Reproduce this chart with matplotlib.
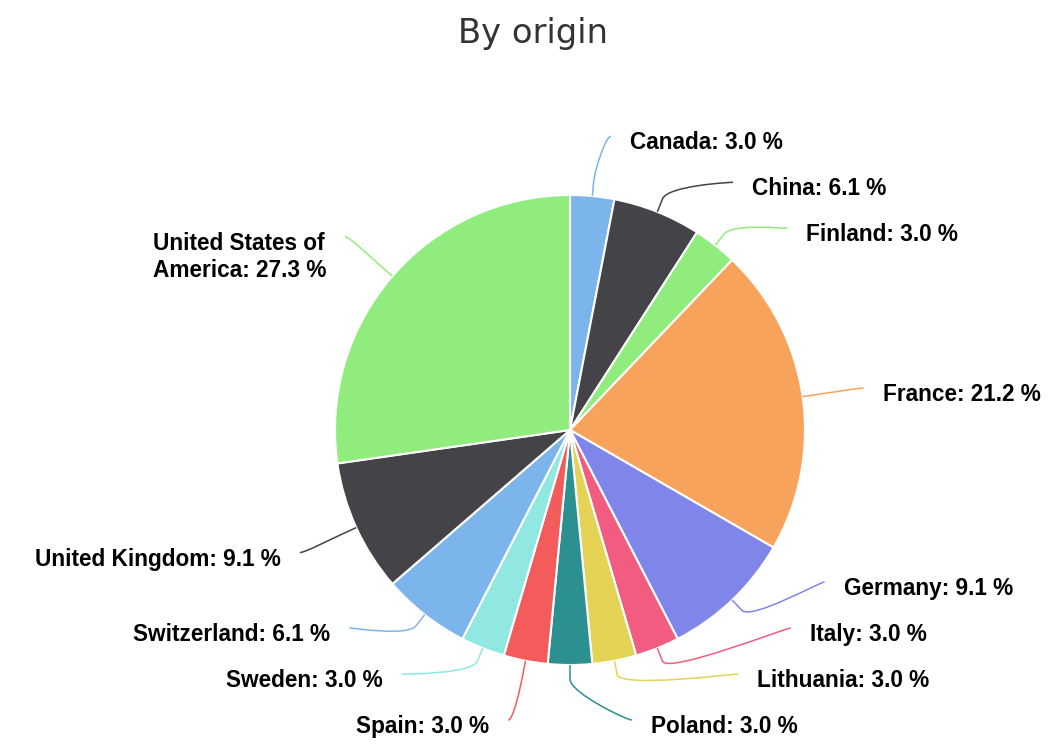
import math
import textwrap

import matplotlib
matplotlib.use("Agg")
import matplotlib.pyplot as plt
from matplotlib.patches import PathPatch
from matplotlib.path import Path

title = "By origin"
countries = ["Canada", "China", "Finland", "France", "Germany", "Italy", "Lithuania",
             "Poland", "Spain", "Sweden", "Switzerland", "United Kingdom",
             "United States of America"]
counts = [1, 2, 1, 7, 3, 1, 1, 1, 1, 1, 2, 3, 9]
colors = ["#7cb5ec", "#434348", "#90ed7d", "#f7a35c", "#8085e9", "#f15c80", "#e4d354",
          "#2b908f", "#f45b5b", "#91e8e1", "#7cb5ec", "#434348", "#90ed7d"]

W, H = 1049, 752
CX, CY, RADIUS = 570, 430, 235
LABEL_R_Y = 295
LABEL_R_X = 296.5
BREAK_R = RADIUS + 14
LABEL_GAP = 46
LABEL_TOP, LABEL_BOTTOM = 60, 720
LABEL_FONT = ["Liberation Sans", "DejaVu Sans"]
LABEL_SIZE = 16.3
LINE_SPACING = 1.2


def spread(ys, gap, lo, hi):
    # push labels apart going down, then back up from the bottom edge
    out = list(ys)
    for i in range(1, len(out)):
        out[i] = max(out[i], out[i - 1] + gap)
    out[-1] = min(out[-1], hi)
    for i in range(len(out) - 2, -1, -1):
        out[i] = min(out[i], out[i + 1] - gap)
    out[0] = max(out[0], lo)
    for i in range(1, len(out)):
        out[i] = max(out[i], out[i - 1] + gap)
    return out


def main() -> None:
    fig = plt.figure(figsize=(W / 100, H / 100), dpi=100)
    ax = fig.add_axes([0, 0, 1, 1])
    ax.pie(counts, colors=colors, startangle=-90, counterclock=True,
           center=(CX, CY), radius=RADIUS,
           wedgeprops=dict(edgecolor="white", linewidth=1.5))
    ax.set_xlim(0, W)
    ax.set_ylim(H, 0)
    ax.set_aspect("equal")
    ax.axis("off")

    total = sum(counts)
    angles = []
    cum = 0
    for v in counts:
        angles.append(2 * math.pi * (cum + v / 2) / total)
        cum += v

    label_y = [0.0] * len(counts)
    for right in (True, False):
        idx = [i for i, a in enumerate(angles) if (a <= math.pi) == right]
        idx.sort(key=lambda i: CY - LABEL_R_Y * math.cos(angles[i]))
        ys = spread([CY - LABEL_R_Y * math.cos(angles[i]) for i in idx], LABEL_GAP, LABEL_TOP, LABEL_BOTTOM)
        for i, y in zip(idx, ys):
            label_y[i] = y

    line_px = LABEL_SIZE * LINE_SPACING * 100 / 72
    for i, (name, v, color) in enumerate(zip(countries, counts, colors)):
        a = angles[i]
        right = a <= math.pi
        side = 1 if right else -1
        ly = label_y[i]
        dy = ly - CY
        lx = CX + side * math.sqrt(max(LABEL_R_X ** 2 - dy ** 2, 0))
        tx, ty = CX + RADIUS * math.sin(a), CY - RADIUS * math.cos(a)
        bx, by = CX + BREAK_R * math.sin(a), CY - BREAK_R * math.cos(a)
        verts = [(lx, ly), (lx - side * 5, ly), (2 * bx - tx, 2 * by - ty), (bx, by), (tx, ty)]
        codes = [Path.MOVETO, Path.CURVE4, Path.CURVE4, Path.CURVE4, Path.LINETO]
        ax.add_patch(PathPatch(Path(verts, codes), facecolor="none", edgecolor=color, lw=1.1))

        label = f"{name}: {100 * v / total:.1f} %"
        if len(label) > 24:
            label = textwrap.fill(label, 16)
        # matplotlib's baseline is the last line's; keep the first line next to the connector
        extra = (label.count("\n")) * line_px
        ax.text(lx + side * 19, ly + 13 + extra, label, ha="left" if right else "right",
                va="baseline", multialignment="left", fontsize=LABEL_SIZE, fontweight="bold",
                color="black", family=LABEL_FONT, linespacing=LINE_SPACING)

    ax.text(533, 43, title, ha="center", va="baseline", fontsize=24.3, color="#333333",
            family="DejaVu Sans")
    fig.savefig("out.png", dpi=100)


if __name__ == "__main__":
    main()
